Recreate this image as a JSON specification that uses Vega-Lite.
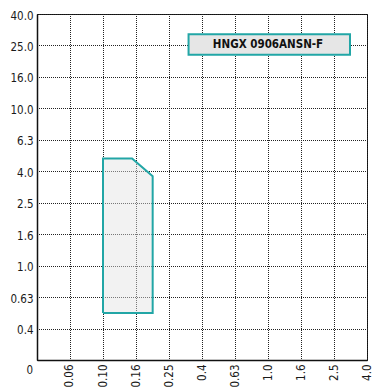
{
  "$schema": "https://vega.github.io/schema/vega-lite/v6.json",
  "width": 330,
  "height": 346,
  "autosize": "none",
  "padding": {"left": 37, "top": 14, "right": 10, "bottom": 27},
  "background": "white",
  "config": {
    "view": {"stroke": "#111", "strokeWidth": 1},
    "axis": {
      "labelFont": "DejaVu Sans Condensed",
      "labelFontSize": 11.5,
      "labelColor": "#1a1a1a",
      "ticks": false,
      "domainColor": "#111",
      "domainWidth": 1.5,
      "gridColor": "#222",
      "gridDash": [1, 1],
      "gridDashOffset": 0.5,
      "gridWidth": 1,
      "gridOpacity": 1,
      "title": null
    }
  },
  "layer": [
    {
      "data": {"values": [
        {"fz": 0.10, "ap": 0.5, "i": 1},
        {"fz": 0.10, "ap": 4.8, "i": 2},
        {"fz": 0.15, "ap": 4.8, "i": 3},
        {"fz": 0.20, "ap": 3.7, "i": 4},
        {"fz": 0.20, "ap": 0.5, "i": 5},
        {"fz": 0.10, "ap": 0.5, "i": 6}
      ]},
      "mark": {"type": "line", "fill": "#e2e2e2", "fillOpacity": 0.45, "stroke": "#22a6a6", "strokeWidth": 2, "strokeJoin": "miter", "clip": true},
      "encoding": {
        "x": {
          "field": "fz", "type": "quantitative",
          "scale": {"type": "log", "domain": [0.0398107, 3.9810717], "nice": false, "zero": false},
          "axis": {
            "values": [0.0398107, 0.0630957, 0.1, 0.1584893, 0.2511886, 0.3981072, 0.6309573, 1, 1.5848932, 2.5118864, 3.9810717],
            "labelExpr": "['','0.06','0.10','0.16','0.25','0.4','0.63','1.0','1.6','2.5','4.0'][round(log(datum.value)/LN10*5)+7]",
            "labelAngle": 270,
            "labelPadding": 4,
            "labelFlush": false,
            "labelOverlap": false,
            "grid": true
          }
        },
        "y": {
          "field": "ap", "type": "quantitative",
          "scale": {"type": "log", "domain": [0.2511886, 39.810717], "nice": false, "zero": false},
          "axis": {
            "values": [0.2511886, 0.3981072, 0.6309573, 1, 1.5848932, 2.5118864, 3.9810717, 6.3095734, 10, 15.848932, 25.118864, 39.810717],
            "labelExpr": "['','0.4','0.63','1.0','1.6','2.5','4.0','6.3','10.0','16.0','25.0','40.0'][round(log(datum.value)/LN10*5)+3]",
            "labelPadding": 4,
            "labelFlush": false,
            "labelOverlap": false,
            "labelOffset": 2,
            "grid": true
          }
        },
        "order": {"field": "i", "type": "quantitative"}
      }
    },
    {
      "data": {"values": [{"x": 0.0398107, "y": 0.2511886, "label": "0"}]},
      "mark": {"type": "text", "font": "DejaVu Sans Condensed", "fontSize": 11.5, "color": "#1a1a1a", "align": "right", "baseline": "middle", "dx": -4, "dy": 11, "clip": false},
      "encoding": {
        "x": {"field": "x", "type": "quantitative"},
        "y": {"field": "y", "type": "quantitative"},
        "text": {"field": "label"}
      }
    },
    {
      "data": {"values": [{"x1": 0.33, "x2": 3.14, "y1": 21.9, "y2": 29.6}]},
      "mark": {"type": "rect", "fill": "#e6e6e6", "stroke": "#22a6a6", "strokeWidth": 2},
      "encoding": {
        "x": {"field": "x1", "type": "quantitative"},
        "x2": {"field": "x2"},
        "y": {"field": "y1", "type": "quantitative"},
        "y2": {"field": "y2"}
      }
    },
    {
      "data": {"values": [{"x": 1.0, "y": 25.4, "label": "HNGX 0906ANSN-F"}]},
      "mark": {"type": "text", "font": "DejaVu Sans Condensed", "fontWeight": "bold", "fontSize": 11.5, "color": "#111", "align": "center", "baseline": "middle"},
      "encoding": {
        "x": {"field": "x", "type": "quantitative"},
        "y": {"field": "y", "type": "quantitative"},
        "text": {"field": "label"}
      }
    }
  ]
}
